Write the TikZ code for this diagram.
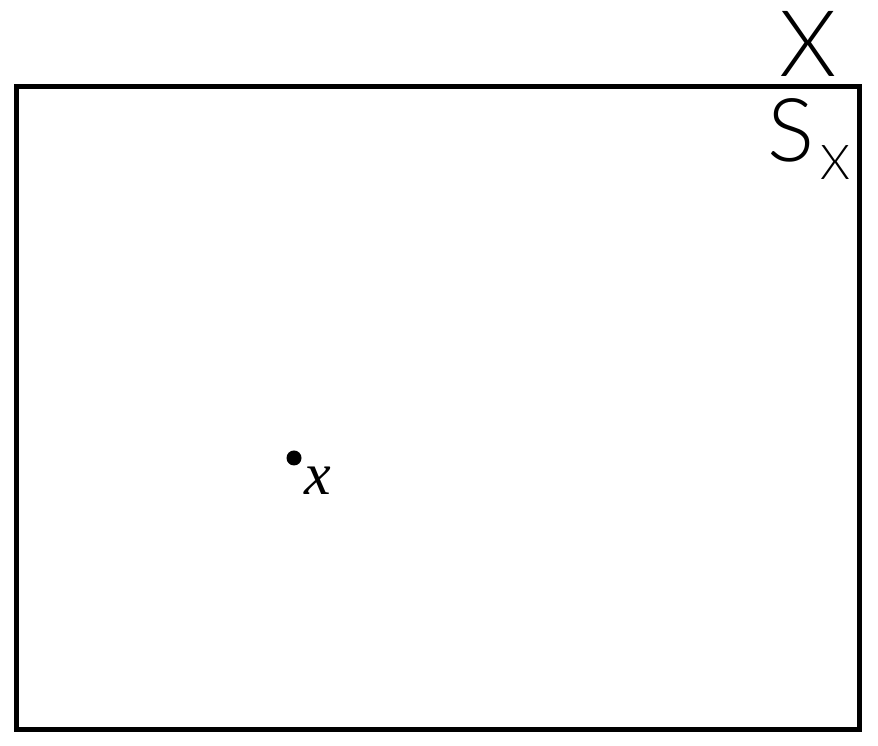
\documentclass[tikz,border=0pt]{standalone}
\usepackage{fontspec}
\newfontfamily\lightfont{Lato Light}
\newfontfamily\serifit{Liberation Serif}
\begin{document}
\begin{tikzpicture}[x=1pt,y=1pt,
  frame/.style={draw=black,line width=5pt},
  bigsans/.style={inner sep=0pt,font=\lightfont\fontsize{92}{92}\selectfont},
  dotstyle/.style={circle,fill=black,inner sep=0pt,minimum size=15pt}]
\useasboundingbox (0,0) rectangle (878,746);
\node[frame,minimum width=843pt,minimum height=643pt,inner sep=0pt] (box) at (438,338) {};
\node[bigsans,anchor=base] (X) at (808,669) {X};
\node[inner sep=0pt,anchor=base west,font=\lightfont\fontsize{88}{88}\selectfont] (S) at (767,584) {S\hspace{6pt}\raisebox{-18pt}{\fontsize{48}{48}\selectfont X}};
\node[dotstyle] (p) at (294,288) {};
\node[inner sep=0pt,anchor=base,font=\serifit\itshape\fontsize{60}{60}\selectfont] (xl) at (317.5,251) {x};
\end{tikzpicture}
\end{document}
